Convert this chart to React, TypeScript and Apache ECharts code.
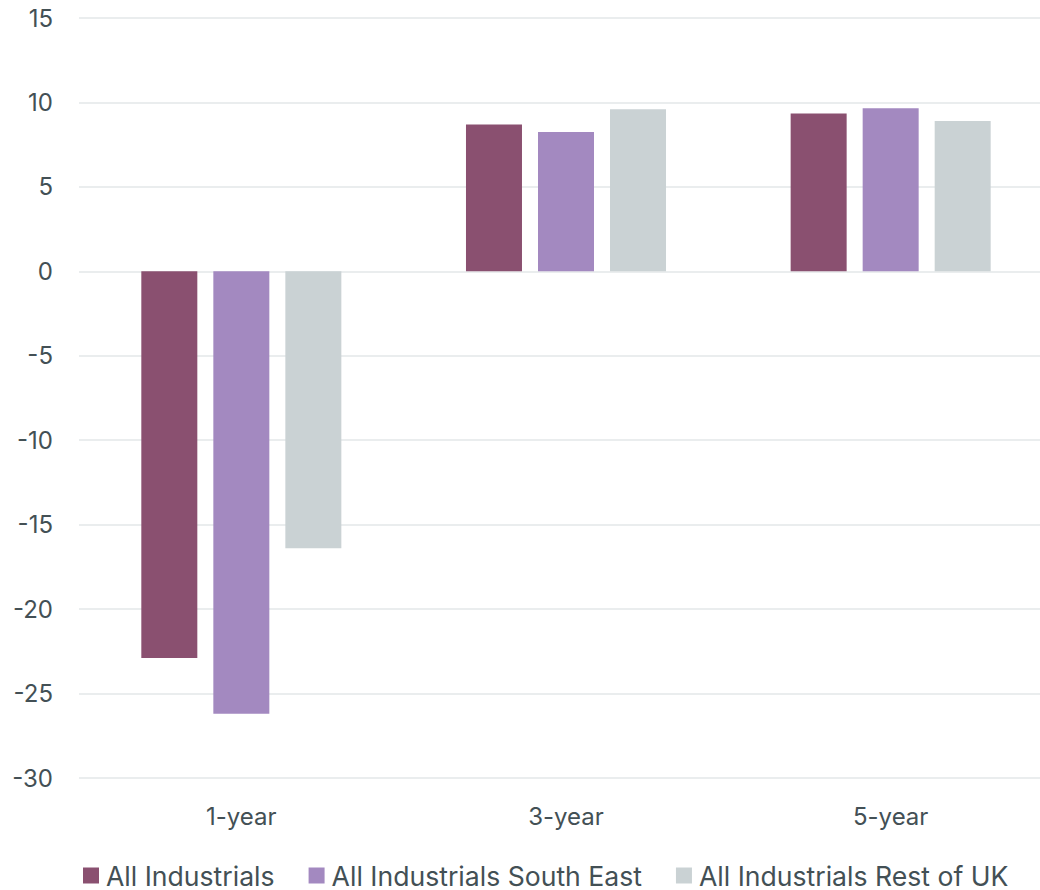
import React, { useEffect, useRef } from "react";
import * as echarts from "echarts";

const categories = ["1-year", "3-year", "5-year"];
const seriesNames = ["All Industrials", "All Industrials South East", "All Industrials Rest of UK"];
const allIndustrials = [-22.9, 8.7, 9.35];
const southEast = [-26.2, 8.25, 9.65];
const restOfUK = [-16.4, 9.6, 8.9];
const colors = ["#8A5070", "#A389C0", "#CAD2D4"];

export default function App() {
  const ref = useRef<HTMLDivElement>(null);
  useEffect(() => {
    if (!ref.current) return;
    const chart = echarts.init(ref.current, null, { renderer: "svg" });
    const font = "Inter, 'Noto Sans', sans-serif";
    const data = [allIndustrials, southEast, restOfUK];
    chart.setOption({
      animation: false,
      grid: { left: 79, right: 0, top: 18, bottom: 112, containLabel: false },
      legend: {
        top: 862,
        left: 83,
        padding: 0,
        itemWidth: 16,
        itemHeight: 16,
        itemGap: 34,
        icon: "rect",
        textStyle: { fontFamily: font, fontSize: 26.6, color: "#435055", padding: [0, 0, 0, 2] },
        data: seriesNames,
      },
      xAxis: {
        type: "category",
        data: categories,
        axisLine: { show: false },
        axisTick: { show: false },
        axisLabel: { fontFamily: font, fontSize: 24, color: "#435055", margin: 26 },
      },
      yAxis: {
        type: "value",
        min: -30,
        max: 15,
        interval: 5,
        axisLabel: { fontFamily: font, fontSize: 24, color: "#435055", margin: 26 },
        splitLine: { lineStyle: { color: "#E3E7E8", width: 1.5 } },
      },
      series: seriesNames.map((name, i) => ({
        name,
        type: "bar",
        data: data[i],
        barWidth: 56,
        barGap: "28.6%",
        itemStyle: { color: colors[i] },
      })),
    });
    return () => chart.dispose();
  }, []);
  return (
    <div style={{ position: "absolute", left: 0, top: 0, width: 1040, height: 890, overflow: "hidden" }}>
      <div ref={ref} style={{ width: 1053, height: 890 }} />
    </div>
  );
}
